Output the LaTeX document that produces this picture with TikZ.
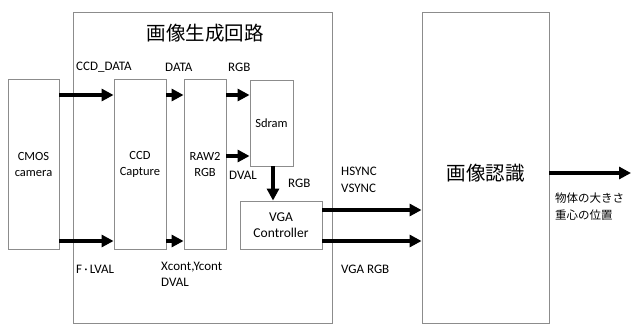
\documentclass[tikz,border=0pt]{standalone}
\usepackage{fontspec}
\setmainfont{Carlito}
\newfontfamily\cjk{Noto Sans CJK JP}
\usepackage{tikz}
\usetikzlibrary{arrows.meta,positioning,calc}
\usepackage{xcolor}
\definecolor{cgray}{RGB}{140,140,140}
\tikzset{
  blk/.style={rectangle, draw=cgray, line width=0.9pt, fill=white,
    font=\fontsize{12.5}{15.5}\selectfont, align=center, inner sep=0pt},
  lbl/.style={anchor=west, inner sep=0pt, align=left,
    font=\fontsize{13}{16.5}\selectfont},
  arr/.style={-{Triangle[length=12pt,width=12pt]}, line width=3.6pt, color=#1},
  arr/.default=black
}

\begin{document}
\begin{tikzpicture}[x=1pt,y=-1pt]
    \useasboundingbox (0,0) rectangle (631,325);
    % outer blocks
    \node[blk, minimum width=259pt, minimum height=311pt] (gen) at (202.5,167.5) {};
    \node[blk, minimum width=127pt, minimum height=311pt] (recog) at (485.5,167.5) {};
    \node[font=\cjk\fontsize{19.5}{20}\selectfont] (gentitle) at (205,33) {画像生成回路};
    \node[font=\cjk\fontsize{19.5}{20}\selectfont] (recogtitle) at (485.5,173) {画像認識};
    % inner blocks
    \node[blk, minimum width=51pt, minimum height=170pt] (cmos) at (33.5,164.5) {CMOS\\camera};
    \node[blk, minimum width=52pt, minimum height=170pt] (ccd) at (140,164.5) {CCD\\Capture};
    \node[blk, minimum width=42pt, minimum height=170pt] (raw) at (205,164.5) {RAW2\\RGB};
    \node[blk, minimum width=43pt, minimum height=86pt] (sdram) at (271.5,123) {Sdram};
    \node[blk, minimum width=82pt, minimum height=48pt,
      font=\fontsize{13.5}{15.5}\selectfont] (vga) at (281,225) {VGA\\Controller};
    % rows of the arrows
    \coordinate (rowa) at (0,95);
    \coordinate (rowb) at (0,156);
    \coordinate (rowc) at (0,241);
    \coordinate (rowd) at (0,210);
    \coordinate (rowe) at (0,173);
    \coordinate (outend) at (631,173);
    \draw[arr] (cmos.east |- rowa) -- (ccd.west |- rowa);
    \draw[arr] (cmos.east |- rowc) -- (ccd.west |- rowc);
    \draw[arr] (ccd.east |- rowa) -- (raw.west |- rowa);
    \draw[arr] (ccd.east |- rowc) -- (raw.west |- rowc);
    \draw[arr] (raw.east |- rowa) -- (sdram.west |- rowa);
    \draw[arr] (raw.east |- rowb) -- (sdram.west |- rowb);
    \draw[arr] (sdram.south -| 273,0) -- (vga.north -| 273,0);
    \draw[arr] (vga.east |- rowd) -- (recog.west |- rowd);
    \draw[arr] (vga.east |- rowc) -- (recog.west |- rowc);
    \draw[arr] (recog.east |- rowe) -- (outend);
    % signal labels
    \node[lbl] (lccd) at (76,67) {CCD\_DATA};
    \node[lbl] (ldata) at (165,67) {DATA};
    \node[lbl] (lrgba) at (228,67) {RGB};
    \node[lbl] (ldval) at (229,175) {DVAL};
    \node[lbl] (lrgbb) at (288,183) {RGB};
    \node[lbl] (lval) at (76,269) {F\,·\,LVAL};
    \node[lbl] (lcont) at (161,274.5) {Xcont,Ycont\\DVAL};
    \node[lbl] (lsync) at (341,180) {HSYNC\\VSYNC};
    \node[lbl] (lvga) at (341,269) {VGA RGB};
    \node[lbl, font=\cjk\fontsize{11.5}{17}\selectfont] (lout) at (555,206.5) {物体の大きさ\\重心の位置};
\end{tikzpicture}
\end{document}
